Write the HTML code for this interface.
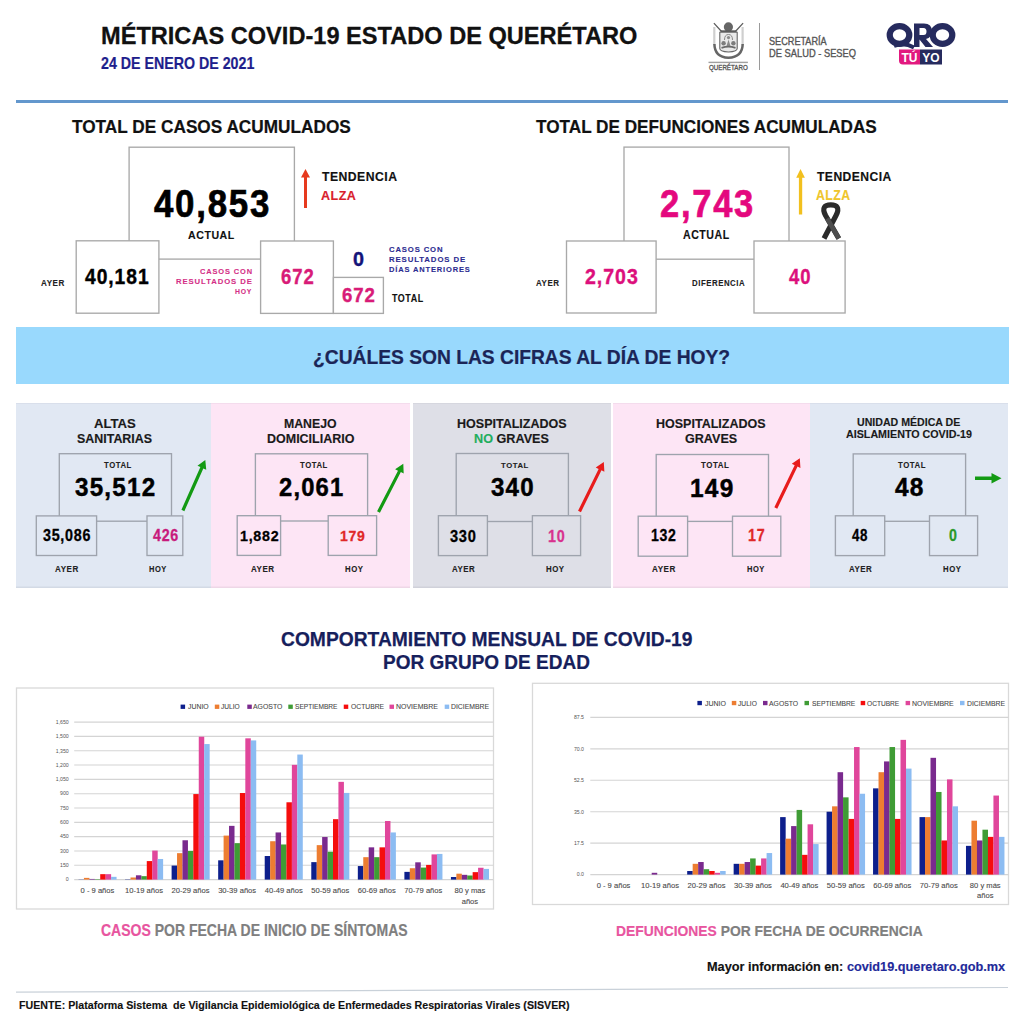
<!DOCTYPE html>
<html><head><meta charset="utf-8"><title>Métricas COVID-19 Querétaro</title><style>
html,body{margin:0;padding:0}
body{width:1024px;height:1024px;position:relative;overflow:hidden;background:#fff;font-family:"Liberation Sans",sans-serif}
.t{position:absolute;white-space:nowrap;line-height:1;transform-origin:0 0;font-family:"Liberation Sans",sans-serif}
.bx{position:absolute;box-sizing:border-box;border:1px solid #8c8c8c}
</style></head><body>
<div style="position:absolute;left:16px;top:99.5px;width:992px;height:3.0px;background:#6397cd;"></div>
<svg style="position:absolute;left:704px;top:16px" width="50" height="58" viewBox="0 0 50 58">
<path d="M10.3 11 V29 M38.6 11 V29" stroke="#cfcfcf" stroke-width="2.2" fill="none"/>
<path d="M9.9 7.1 L17.3 15.2 M39.1 7.1 L31.6 15.2" stroke="#5e5e5e" stroke-width="1.3" fill="none"/>
<circle cx="24.4" cy="10.9" r="4.6" fill="#666"/>
<rect x="16.5" y="14.3" width="16" height="1.8" fill="#5a5a5a"/>
<path d="M15.8 16.2 H33.2 V32.5 Q33.2 35.6 24.5 36 Q15.8 35.6 15.8 32.5 Z" fill="#e9e9e9" stroke="#666" stroke-width="1.1"/>
<path d="M20.5 24 Q20.5 18.5 24.5 18.5 Q28.5 18.5 28.5 24" fill="none" stroke="#888" stroke-width="1"/>
<circle cx="24.5" cy="21.6" r="1.6" fill="#8a8a8a"/>
<path d="M22.5 30 L24.5 23.5 L26.5 30 Z" fill="#8a8a8a"/>
<circle cx="19.6" cy="27.2" r="2.2" fill="#7d7d7d"/>
<circle cx="29.4" cy="27.2" r="2.2" fill="#7d7d7d"/>
<path d="M17.5 31.8 Q24.5 29.5 31.5 31.8" stroke="#6a6a6a" stroke-width="1.8" fill="none"/>
<path d="M10.4 28 Q10.6 41.2 24.4 41.8 Q38.4 41.2 38.7 28" stroke="#666" stroke-width="2.5" fill="none"/>
<rect x="4.5" y="45.7" width="39.4" height="1.4" fill="#a0a0a0"/>
</svg>
<div style="position:absolute;left:759px;top:22.5px;width:1px;height:47.5px;background:#9a9a9a;"></div>
<svg style="position:absolute;left:884px;top:20px" width="74" height="48" viewBox="0 0 74 48">
<g fill="none" stroke="#262b5e" stroke-width="6.2">
<ellipse cx="15.5" cy="15" rx="9.8" ry="8.8"/>
<ellipse cx="58.5" cy="15" rx="9.8" ry="8.8"/>
</g>
<path d="M10 26 Q20 22 30 27.5" stroke="#262b5e" stroke-width="4" fill="none"/>
<path d="M30 3.5 H40 Q48 3.5 48 11.5 Q48 17.5 42 19 L49 27 H41.5 L35.5 19.5 V27 H30 Z M35.5 8 V15 H39.5 Q42.5 15 42.5 11.5 Q42.5 8 39.5 8 Z" fill="#262b5e" fill-rule="evenodd"/>
<path d="M15 29.5 H36 V44.5 H19 Q15 44.5 15 40.5 Z" fill="#e2197f"/>
<rect x="36" y="29.5" width="22" height="15" fill="#262b5e"/>
<text x="25.5" y="42" font-family="Liberation Sans" font-weight="bold" font-size="12" fill="#fff" text-anchor="middle">TÚ</text>
<text x="47" y="42" font-family="Liberation Sans" font-weight="bold" font-size="12" fill="#fff" text-anchor="middle">YO</text>
</svg>
<svg style="position:absolute;left:0;top:0;overflow:visible" width="1" height="1"><rect x="129.1" y="147.2" width="165.30" height="111.90" fill="#fff" stroke="#a9a9a9" stroke-width="1.35"/></svg>
<svg style="position:absolute;left:0;top:0;overflow:visible" width="1" height="1"><rect x="76.2" y="240.8" width="82.70" height="72.40" fill="#fff" stroke="#a9a9a9" stroke-width="1.35"/></svg>
<svg style="position:absolute;left:0;top:0;overflow:visible" width="1" height="1"><rect x="260.6" y="241" width="72.80" height="72.40" fill="#fff" stroke="#a9a9a9" stroke-width="1.35"/></svg>
<svg style="position:absolute;left:0;top:0;overflow:visible" width="1" height="1"><rect x="333.4" y="277.4" width="50.00" height="36.00" fill="#fff" stroke="#a9a9a9" stroke-width="1.35"/></svg>
<svg style="position:absolute;left:0;top:0" width="1024" height="330">
<path d="M304 208 V177.5 H301 L305.5 169 L310 177.5 H307 V208 Z" fill="#e63a1e"/>
<path d="M798.9 214.4 V177.8 H796.2 L800.5 169 L804.9 177.8 H802.2 V214.4 Z" fill="#f2c01e"/>
</svg>
<svg style="position:absolute;left:0;top:0;overflow:visible" width="1" height="1"><rect x="624" y="147.1" width="165.00" height="112.10" fill="#fff" stroke="#a9a9a9" stroke-width="1.35"/></svg>
<svg style="position:absolute;left:0;top:0;overflow:visible" width="1" height="1"><rect x="566.5" y="241" width="89.60" height="72.00" fill="#fff" stroke="#a9a9a9" stroke-width="1.35"/></svg>
<svg style="position:absolute;left:0;top:0;overflow:visible" width="1" height="1"><rect x="754" y="241" width="91.10" height="72.00" fill="#fff" stroke="#a9a9a9" stroke-width="1.35"/></svg>
<svg style="position:absolute;left:0;top:0" width="1024" height="260">
<path d="M824 238.5 L836 215.5 C840 207.8 837 204.8 830.8 204.8 C824.6 204.8 821.6 207.8 825.6 215.5 L838.8 238.5" fill="none" stroke="#2b2b2b" stroke-width="5.2" stroke-linejoin="round"/>
<path d="M827.2 218.5 L838.8 238.5" fill="none" stroke="#4d4d4d" stroke-width="4.6"/>
</svg>
<div style="position:absolute;left:16px;top:327px;width:992.5px;height:57px;background:#99d9fd;"></div>
<div style="position:absolute;left:16px;top:403.4px;width:195px;height:185.0px;background:#e1e8f3;box-shadow:inset 0 1px 0 rgba(0,0,20,0.035),inset 0 -1.6px 0 rgba(0,0,20,0.06)"></div>
<div style="position:absolute;left:211px;top:403.4px;width:199px;height:185.0px;background:#fde5f5;box-shadow:inset 0 1px 0 rgba(0,0,20,0.035),inset 0 -1.6px 0 rgba(0,0,20,0.06)"></div>
<div style="position:absolute;left:413px;top:403.4px;width:197.60000000000002px;height:185.0px;background:#dedfe7;box-shadow:inset 0 1px 0 rgba(0,0,20,0.035),inset 0 -1.6px 0 rgba(0,0,20,0.06)"></div>
<div style="position:absolute;left:613px;top:403.4px;width:197px;height:185.0px;background:#fde5f5;box-shadow:inset 0 1px 0 rgba(0,0,20,0.035),inset 0 -1.6px 0 rgba(0,0,20,0.06)"></div>
<div style="position:absolute;left:810px;top:403.4px;width:198px;height:185.0px;background:#e1e8f3;box-shadow:inset 0 1px 0 rgba(0,0,20,0.035),inset 0 -1.6px 0 rgba(0,0,20,0.06)"></div>
<svg style="position:absolute;left:0;top:0;overflow:visible" width="1" height="1"><rect x="59.3" y="453.7" width="112.20" height="67.50" fill="#e1e8f3" stroke="#9ea3ad" stroke-width="1.35"/></svg>
<svg style="position:absolute;left:0;top:0;overflow:visible" width="1" height="1"><rect x="36.3" y="515.9" width="60.30" height="39.60" fill="#e1e8f3" stroke="#9ea3ad" stroke-width="1.35"/></svg>
<svg style="position:absolute;left:0;top:0;overflow:visible" width="1" height="1"><rect x="147" y="515.9" width="35.80" height="39.60" fill="#e1e8f3" stroke="#9ea3ad" stroke-width="1.35"/></svg>
<svg style="position:absolute;left:0;top:0;overflow:visible" width="1" height="1"><rect x="255.4" y="453.8" width="112.20" height="67.20" fill="#fde5f5" stroke="#9ea3ad" stroke-width="1.35"/></svg>
<svg style="position:absolute;left:0;top:0;overflow:visible" width="1" height="1"><rect x="237.2" y="515.7" width="43.40" height="39.70" fill="#fde5f5" stroke="#9ea3ad" stroke-width="1.35"/></svg>
<svg style="position:absolute;left:0;top:0;overflow:visible" width="1" height="1"><rect x="328.2" y="515.7" width="48.40" height="39.70" fill="#fde5f5" stroke="#9ea3ad" stroke-width="1.35"/></svg>
<svg style="position:absolute;left:0;top:0;overflow:visible" width="1" height="1"><rect x="456.2" y="453.5" width="112.20" height="68.00" fill="#dedfe7" stroke="#9ea3ad" stroke-width="1.35"/></svg>
<svg style="position:absolute;left:0;top:0;overflow:visible" width="1" height="1"><rect x="438.4" y="515.7" width="49.00" height="39.90" fill="#dedfe7" stroke="#9ea3ad" stroke-width="1.35"/></svg>
<svg style="position:absolute;left:0;top:0;overflow:visible" width="1" height="1"><rect x="532.4" y="515.7" width="48.20" height="39.90" fill="#dedfe7" stroke="#9ea3ad" stroke-width="1.35"/></svg>
<svg style="position:absolute;left:0;top:0;overflow:visible" width="1" height="1"><rect x="656.2" y="454.5" width="112.30" height="66.90" fill="#fde5f5" stroke="#9ea3ad" stroke-width="1.35"/></svg>
<svg style="position:absolute;left:0;top:0;overflow:visible" width="1" height="1"><rect x="638.2" y="516.2" width="49.40" height="40.00" fill="#fde5f5" stroke="#9ea3ad" stroke-width="1.35"/></svg>
<svg style="position:absolute;left:0;top:0;overflow:visible" width="1" height="1"><rect x="732.5" y="516.2" width="48.30" height="40.00" fill="#fde5f5" stroke="#9ea3ad" stroke-width="1.35"/></svg>
<svg style="position:absolute;left:0;top:0;overflow:visible" width="1" height="1"><rect x="853.2" y="453.9" width="112.40" height="67.40" fill="#e1e8f3" stroke="#9ea3ad" stroke-width="1.35"/></svg>
<svg style="position:absolute;left:0;top:0;overflow:visible" width="1" height="1"><rect x="835.4" y="515.8" width="49.30" height="39.80" fill="#e1e8f3" stroke="#9ea3ad" stroke-width="1.35"/></svg>
<svg style="position:absolute;left:0;top:0;overflow:visible" width="1" height="1"><rect x="929.5" y="515.8" width="48.10" height="39.80" fill="#e1e8f3" stroke="#9ea3ad" stroke-width="1.35"/></svg>
<svg style="position:absolute;left:0;top:0" width="1024" height="600"><path d="M184.36 511.15 L203.32 468.42 L206.24 469.72 L205.30 460.00 L197.47 465.82 L200.39 467.12 L181.44 509.85 Z" fill="#139a13"/><path d="M379.92 512.73 L400.83 472.09 L403.68 473.55 L403.30 463.80 L395.14 469.16 L397.99 470.63 L377.08 511.27 Z" fill="#139a13"/><path d="M580.94 512.21 L601.49 470.34 L604.36 471.75 L603.80 462.00 L595.75 467.51 L598.62 468.93 L578.06 510.79 Z" fill="#e81c1c"/><path d="M777.24 508.69 L797.55 466.55 L800.43 467.94 L799.80 458.20 L791.79 463.77 L794.67 465.16 L774.36 507.31 Z" fill="#e81c1c"/><path d="M975.00 479.90 L991.50 479.90 L991.50 483.40 L1001.50 478.20 L991.50 473.00 L991.50 476.50 L975.00 476.50 Z" fill="#139a13"/></svg>
<svg style="position:absolute;left:0;top:980px" width="1024" height="20"><line x1="16" y1="12.2" x2="1008" y2="7.5" stroke="#c9d1d9" stroke-width="1.2"/></svg>
<svg style="position:absolute;left:0;top:0" width="1024" height="1024">
<rect x="16.5" y="688.0" width="477" height="221.0" fill="#fff" stroke="#d9d9d9" stroke-width="1.3"/>
<line x1="74.2" y1="879.60" x2="493.2" y2="879.60" stroke="#d4d4d4" stroke-width="1.1"/>
<text x="68.75" y="881.40" font-family="Liberation Sans" font-size="5.2" fill="#555" text-anchor="end">0</text>
<line x1="74.2" y1="865.28" x2="493.2" y2="865.28" stroke="#d4d4d4" stroke-width="1.1"/>
<text x="68.75" y="867.08" font-family="Liberation Sans" font-size="5.2" fill="#555" text-anchor="end">150</text>
<line x1="74.2" y1="850.96" x2="493.2" y2="850.96" stroke="#d4d4d4" stroke-width="1.1"/>
<text x="68.75" y="852.76" font-family="Liberation Sans" font-size="5.2" fill="#555" text-anchor="end">300</text>
<line x1="74.2" y1="836.65" x2="493.2" y2="836.65" stroke="#d4d4d4" stroke-width="1.1"/>
<text x="68.75" y="838.45" font-family="Liberation Sans" font-size="5.2" fill="#555" text-anchor="end">450</text>
<line x1="74.2" y1="822.33" x2="493.2" y2="822.33" stroke="#d4d4d4" stroke-width="1.1"/>
<text x="68.75" y="824.13" font-family="Liberation Sans" font-size="5.2" fill="#555" text-anchor="end">600</text>
<line x1="74.2" y1="808.01" x2="493.2" y2="808.01" stroke="#d4d4d4" stroke-width="1.1"/>
<text x="68.75" y="809.81" font-family="Liberation Sans" font-size="5.2" fill="#555" text-anchor="end">750</text>
<line x1="74.2" y1="793.69" x2="493.2" y2="793.69" stroke="#d4d4d4" stroke-width="1.1"/>
<text x="68.75" y="795.49" font-family="Liberation Sans" font-size="5.2" fill="#555" text-anchor="end">900</text>
<line x1="74.2" y1="779.37" x2="493.2" y2="779.37" stroke="#d4d4d4" stroke-width="1.1"/>
<text x="68.75" y="781.17" font-family="Liberation Sans" font-size="5.2" fill="#555" text-anchor="end">1,050</text>
<line x1="74.2" y1="765.05" x2="493.2" y2="765.05" stroke="#d4d4d4" stroke-width="1.1"/>
<text x="68.75" y="766.85" font-family="Liberation Sans" font-size="5.2" fill="#555" text-anchor="end">1,200</text>
<line x1="74.2" y1="750.74" x2="493.2" y2="750.74" stroke="#d4d4d4" stroke-width="1.1"/>
<text x="68.75" y="752.54" font-family="Liberation Sans" font-size="5.2" fill="#555" text-anchor="end">1,350</text>
<line x1="74.2" y1="736.42" x2="493.2" y2="736.42" stroke="#d4d4d4" stroke-width="1.1"/>
<text x="68.75" y="738.22" font-family="Liberation Sans" font-size="5.2" fill="#555" text-anchor="end">1,500</text>
<line x1="74.2" y1="722.10" x2="493.2" y2="722.10" stroke="#d4d4d4" stroke-width="1.1"/>
<text x="68.75" y="723.90" font-family="Liberation Sans" font-size="5.2" fill="#555" text-anchor="end">1,650</text>
<rect x="78.50" y="879.41" width="5.48" height="0.19" fill="#0d1f8c"/>
<rect x="83.93" y="877.88" width="5.48" height="1.72" fill="#ed7d31"/>
<rect x="89.36" y="878.93" width="5.48" height="0.67" fill="#7a2a8e"/>
<rect x="94.79" y="879.12" width="5.48" height="0.48" fill="#3f9c35"/>
<rect x="100.22" y="874.16" width="5.48" height="5.44" fill="#f50d0d"/>
<rect x="105.65" y="874.16" width="5.48" height="5.44" fill="#e0469b"/>
<rect x="111.08" y="876.83" width="5.48" height="2.77" fill="#8cbcf2"/>
<rect x="125.06" y="879.31" width="5.48" height="0.29" fill="#0d1f8c"/>
<rect x="130.49" y="877.50" width="5.48" height="2.10" fill="#ed7d31"/>
<rect x="135.92" y="875.30" width="5.48" height="4.30" fill="#7a2a8e"/>
<rect x="141.35" y="876.16" width="5.48" height="3.44" fill="#3f9c35"/>
<rect x="146.78" y="861.08" width="5.48" height="18.52" fill="#f50d0d"/>
<rect x="152.21" y="850.58" width="5.48" height="29.02" fill="#e0469b"/>
<rect x="157.64" y="858.98" width="5.48" height="20.62" fill="#8cbcf2"/>
<rect x="171.61" y="865.57" width="5.48" height="14.03" fill="#0d1f8c"/>
<rect x="177.04" y="853.16" width="5.48" height="26.44" fill="#ed7d31"/>
<rect x="182.47" y="840.27" width="5.48" height="39.33" fill="#7a2a8e"/>
<rect x="187.90" y="850.96" width="5.48" height="28.64" fill="#3f9c35"/>
<rect x="193.33" y="794.07" width="5.48" height="85.53" fill="#f50d0d"/>
<rect x="198.76" y="736.70" width="5.48" height="142.90" fill="#e0469b"/>
<rect x="204.19" y="744.05" width="5.48" height="135.55" fill="#8cbcf2"/>
<rect x="218.17" y="860.32" width="5.48" height="19.28" fill="#0d1f8c"/>
<rect x="223.60" y="835.60" width="5.48" height="44.00" fill="#ed7d31"/>
<rect x="229.03" y="825.86" width="5.48" height="53.74" fill="#7a2a8e"/>
<rect x="234.46" y="843.14" width="5.48" height="36.46" fill="#3f9c35"/>
<rect x="239.89" y="793.02" width="5.48" height="86.58" fill="#f50d0d"/>
<rect x="245.32" y="738.33" width="5.48" height="141.27" fill="#e0469b"/>
<rect x="250.75" y="740.43" width="5.48" height="139.17" fill="#8cbcf2"/>
<rect x="264.72" y="856.02" width="5.48" height="23.58" fill="#0d1f8c"/>
<rect x="270.15" y="841.23" width="5.48" height="38.37" fill="#ed7d31"/>
<rect x="275.58" y="832.45" width="5.48" height="47.15" fill="#7a2a8e"/>
<rect x="281.01" y="844.47" width="5.48" height="35.13" fill="#3f9c35"/>
<rect x="286.44" y="802.28" width="5.48" height="77.32" fill="#f50d0d"/>
<rect x="291.87" y="764.86" width="5.48" height="114.74" fill="#e0469b"/>
<rect x="297.30" y="754.55" width="5.48" height="125.05" fill="#8cbcf2"/>
<rect x="311.28" y="862.13" width="5.48" height="17.47" fill="#0d1f8c"/>
<rect x="316.71" y="845.14" width="5.48" height="34.46" fill="#ed7d31"/>
<rect x="322.14" y="837.03" width="5.48" height="42.57" fill="#7a2a8e"/>
<rect x="327.57" y="851.73" width="5.48" height="27.87" fill="#3f9c35"/>
<rect x="333.00" y="819.18" width="5.48" height="60.42" fill="#f50d0d"/>
<rect x="338.43" y="781.85" width="5.48" height="97.75" fill="#e0469b"/>
<rect x="343.86" y="792.93" width="5.48" height="86.67" fill="#8cbcf2"/>
<rect x="357.83" y="866.05" width="5.48" height="13.55" fill="#0d1f8c"/>
<rect x="363.26" y="857.17" width="5.48" height="22.43" fill="#ed7d31"/>
<rect x="368.69" y="847.34" width="5.48" height="32.26" fill="#7a2a8e"/>
<rect x="374.12" y="857.17" width="5.48" height="22.43" fill="#3f9c35"/>
<rect x="379.55" y="847.34" width="5.48" height="32.26" fill="#f50d0d"/>
<rect x="384.98" y="820.99" width="5.48" height="58.61" fill="#e0469b"/>
<rect x="390.41" y="832.45" width="5.48" height="47.15" fill="#8cbcf2"/>
<rect x="404.39" y="871.87" width="5.48" height="7.73" fill="#0d1f8c"/>
<rect x="409.82" y="868.24" width="5.48" height="11.36" fill="#ed7d31"/>
<rect x="415.25" y="862.32" width="5.48" height="17.28" fill="#7a2a8e"/>
<rect x="420.68" y="867.57" width="5.48" height="12.03" fill="#3f9c35"/>
<rect x="426.11" y="864.90" width="5.48" height="14.70" fill="#f50d0d"/>
<rect x="431.54" y="854.40" width="5.48" height="25.20" fill="#e0469b"/>
<rect x="436.97" y="853.92" width="5.48" height="25.68" fill="#8cbcf2"/>
<rect x="450.94" y="877.02" width="5.48" height="2.58" fill="#0d1f8c"/>
<rect x="456.37" y="873.68" width="5.48" height="5.92" fill="#ed7d31"/>
<rect x="461.80" y="874.83" width="5.48" height="4.77" fill="#7a2a8e"/>
<rect x="467.23" y="875.50" width="5.48" height="4.10" fill="#3f9c35"/>
<rect x="472.66" y="872.15" width="5.48" height="7.45" fill="#f50d0d"/>
<rect x="478.09" y="867.76" width="5.48" height="11.84" fill="#e0469b"/>
<rect x="483.52" y="868.91" width="5.48" height="10.69" fill="#8cbcf2"/>
<rect x="180.6" y="704.6" width="4.5" height="4.3" fill="#0d1f8c"/>
<rect x="214.8" y="704.6" width="4.5" height="4.3" fill="#ed7d31"/>
<rect x="247.3" y="704.6" width="4.5" height="4.3" fill="#7a2a8e"/>
<rect x="288.3" y="704.6" width="4.5" height="4.3" fill="#3f9c35"/>
<rect x="343.75" y="704.6" width="4.5" height="4.3" fill="#f50d0d"/>
<rect x="389.5" y="704.6" width="4.5" height="4.3" fill="#e0469b"/>
<rect x="444.7" y="704.6" width="4.5" height="4.3" fill="#8cbcf2"/>
</svg>
<div class="t" style="left:67.48px;width:60px;text-align:center;top:887px;font-size:7.6px;color:#4a4a4a;-webkit-text-stroke-width:0.1px">0 - 9 años</div>
<div class="t" style="left:114.03px;width:60px;text-align:center;top:887px;font-size:7.6px;color:#4a4a4a;-webkit-text-stroke-width:0.1px">10-19 años</div>
<div class="t" style="left:160.59px;width:60px;text-align:center;top:887px;font-size:7.6px;color:#4a4a4a;-webkit-text-stroke-width:0.1px">20-29 años</div>
<div class="t" style="left:207.14px;width:60px;text-align:center;top:887px;font-size:7.6px;color:#4a4a4a;-webkit-text-stroke-width:0.1px">30-39 años</div>
<div class="t" style="left:253.70px;width:60px;text-align:center;top:887px;font-size:7.6px;color:#4a4a4a;-webkit-text-stroke-width:0.1px">40-49 años</div>
<div class="t" style="left:300.26px;width:60px;text-align:center;top:887px;font-size:7.6px;color:#4a4a4a;-webkit-text-stroke-width:0.1px">50-59 años</div>
<div class="t" style="left:346.81px;width:60px;text-align:center;top:887px;font-size:7.6px;color:#4a4a4a;-webkit-text-stroke-width:0.1px">60-69 años</div>
<div class="t" style="left:393.37px;width:60px;text-align:center;top:887px;font-size:7.6px;color:#4a4a4a;-webkit-text-stroke-width:0.1px">70-79 años</div>
<div class="t" style="left:439.92px;width:60px;text-align:center;top:887px;font-size:7.6px;color:#4a4a4a;-webkit-text-stroke-width:0.1px">80 y mas</div>
<div class="t" style="left:439.92px;width:60px;text-align:center;top:898px;font-size:7.6px;color:#4a4a4a;-webkit-text-stroke-width:0.1px">años</div>
<svg style="position:absolute;left:0;top:0" width="1024" height="1024">
<rect x="532.5" y="683.3" width="476" height="221.20000000000005" fill="#fff" stroke="#d9d9d9" stroke-width="1.3"/>
<line x1="590.3" y1="874.60" x2="1008.5" y2="874.60" stroke="#d4d4d4" stroke-width="1.1"/>
<text x="584" y="876.40" font-family="Liberation Sans" font-size="5.2" fill="#555" text-anchor="end">0.0</text>
<line x1="590.3" y1="843.16" x2="1008.5" y2="843.16" stroke="#d4d4d4" stroke-width="1.1"/>
<text x="584" y="844.96" font-family="Liberation Sans" font-size="5.2" fill="#555" text-anchor="end">17.5</text>
<line x1="590.3" y1="811.72" x2="1008.5" y2="811.72" stroke="#d4d4d4" stroke-width="1.1"/>
<text x="584" y="813.52" font-family="Liberation Sans" font-size="5.2" fill="#555" text-anchor="end">35.0</text>
<line x1="590.3" y1="780.28" x2="1008.5" y2="780.28" stroke="#d4d4d4" stroke-width="1.1"/>
<text x="584" y="782.08" font-family="Liberation Sans" font-size="5.2" fill="#555" text-anchor="end">52.5</text>
<line x1="590.3" y1="748.84" x2="1008.5" y2="748.84" stroke="#d4d4d4" stroke-width="1.1"/>
<text x="584" y="750.64" font-family="Liberation Sans" font-size="5.2" fill="#555" text-anchor="end">70.0</text>
<line x1="590.3" y1="717.40" x2="1008.5" y2="717.40" stroke="#d4d4d4" stroke-width="1.1"/>
<text x="584" y="719.20" font-family="Liberation Sans" font-size="5.2" fill="#555" text-anchor="end">87.5</text>
<rect x="651.70" y="872.80" width="5.54" height="1.80" fill="#7a2a8e"/>
<rect x="687.18" y="871.01" width="5.54" height="3.59" fill="#0d1f8c"/>
<rect x="692.67" y="863.82" width="5.54" height="10.78" fill="#ed7d31"/>
<rect x="698.16" y="862.02" width="5.54" height="12.58" fill="#7a2a8e"/>
<rect x="703.65" y="869.21" width="5.54" height="5.39" fill="#3f9c35"/>
<rect x="709.14" y="871.01" width="5.54" height="3.59" fill="#f50d0d"/>
<rect x="714.63" y="872.80" width="5.54" height="1.80" fill="#e0469b"/>
<rect x="720.12" y="871.01" width="5.54" height="3.59" fill="#8cbcf2"/>
<rect x="733.65" y="863.82" width="5.54" height="10.78" fill="#0d1f8c"/>
<rect x="739.14" y="863.82" width="5.54" height="10.78" fill="#ed7d31"/>
<rect x="744.63" y="862.02" width="5.54" height="12.58" fill="#7a2a8e"/>
<rect x="750.12" y="858.43" width="5.54" height="16.17" fill="#3f9c35"/>
<rect x="755.61" y="865.62" width="5.54" height="8.98" fill="#f50d0d"/>
<rect x="761.10" y="858.43" width="5.54" height="16.17" fill="#e0469b"/>
<rect x="766.59" y="853.04" width="5.54" height="21.56" fill="#8cbcf2"/>
<rect x="780.12" y="817.11" width="5.54" height="57.49" fill="#0d1f8c"/>
<rect x="785.61" y="838.67" width="5.54" height="35.93" fill="#ed7d31"/>
<rect x="791.10" y="826.09" width="5.54" height="48.51" fill="#7a2a8e"/>
<rect x="796.59" y="809.92" width="5.54" height="64.68" fill="#3f9c35"/>
<rect x="802.08" y="854.84" width="5.54" height="19.76" fill="#f50d0d"/>
<rect x="807.57" y="824.30" width="5.54" height="50.30" fill="#e0469b"/>
<rect x="813.06" y="844.06" width="5.54" height="30.54" fill="#8cbcf2"/>
<rect x="826.58" y="811.72" width="5.54" height="62.88" fill="#0d1f8c"/>
<rect x="832.07" y="806.33" width="5.54" height="68.27" fill="#ed7d31"/>
<rect x="837.56" y="772.20" width="5.54" height="102.40" fill="#7a2a8e"/>
<rect x="843.05" y="797.35" width="5.54" height="77.25" fill="#3f9c35"/>
<rect x="848.54" y="818.91" width="5.54" height="55.69" fill="#f50d0d"/>
<rect x="854.03" y="747.04" width="5.54" height="127.56" fill="#e0469b"/>
<rect x="859.52" y="793.75" width="5.54" height="80.85" fill="#8cbcf2"/>
<rect x="873.05" y="788.36" width="5.54" height="86.24" fill="#0d1f8c"/>
<rect x="878.54" y="772.20" width="5.54" height="102.40" fill="#ed7d31"/>
<rect x="884.03" y="761.42" width="5.54" height="113.18" fill="#7a2a8e"/>
<rect x="889.52" y="747.04" width="5.54" height="127.56" fill="#3f9c35"/>
<rect x="895.01" y="818.91" width="5.54" height="55.69" fill="#f50d0d"/>
<rect x="900.50" y="739.86" width="5.54" height="134.74" fill="#e0469b"/>
<rect x="905.99" y="768.60" width="5.54" height="106.00" fill="#8cbcf2"/>
<rect x="919.52" y="817.11" width="5.54" height="57.49" fill="#0d1f8c"/>
<rect x="925.01" y="817.11" width="5.54" height="57.49" fill="#ed7d31"/>
<rect x="930.50" y="757.82" width="5.54" height="116.78" fill="#7a2a8e"/>
<rect x="935.99" y="791.96" width="5.54" height="82.64" fill="#3f9c35"/>
<rect x="941.48" y="840.47" width="5.54" height="34.13" fill="#f50d0d"/>
<rect x="946.97" y="779.38" width="5.54" height="95.22" fill="#e0469b"/>
<rect x="952.46" y="806.33" width="5.54" height="68.27" fill="#8cbcf2"/>
<rect x="965.98" y="845.85" width="5.54" height="28.75" fill="#0d1f8c"/>
<rect x="971.47" y="820.70" width="5.54" height="53.90" fill="#ed7d31"/>
<rect x="976.96" y="840.47" width="5.54" height="34.13" fill="#7a2a8e"/>
<rect x="982.45" y="829.69" width="5.54" height="44.91" fill="#3f9c35"/>
<rect x="987.94" y="836.87" width="5.54" height="37.73" fill="#f50d0d"/>
<rect x="993.43" y="795.55" width="5.54" height="79.05" fill="#e0469b"/>
<rect x="998.92" y="836.87" width="5.54" height="37.73" fill="#8cbcf2"/>
<rect x="697.4" y="700.9000000000001" width="4.5" height="4.3" fill="#0d1f8c"/>
<rect x="731.8" y="700.9000000000001" width="4.5" height="4.3" fill="#ed7d31"/>
<rect x="763" y="700.9000000000001" width="4.5" height="4.3" fill="#7a2a8e"/>
<rect x="804.5" y="700.9000000000001" width="4.5" height="4.3" fill="#3f9c35"/>
<rect x="860.7" y="700.9000000000001" width="4.5" height="4.3" fill="#f50d0d"/>
<rect x="905.6" y="700.9000000000001" width="4.5" height="4.3" fill="#e0469b"/>
<rect x="960" y="700.9000000000001" width="4.5" height="4.3" fill="#8cbcf2"/>
</svg>
<div class="t" style="left:583.53px;width:60px;text-align:center;top:882px;font-size:7.6px;color:#4a4a4a;-webkit-text-stroke-width:0.1px">0 - 9 años</div>
<div class="t" style="left:630.00px;width:60px;text-align:center;top:882px;font-size:7.6px;color:#4a4a4a;-webkit-text-stroke-width:0.1px">10-19 años</div>
<div class="t" style="left:676.47px;width:60px;text-align:center;top:882px;font-size:7.6px;color:#4a4a4a;-webkit-text-stroke-width:0.1px">20-29 años</div>
<div class="t" style="left:722.93px;width:60px;text-align:center;top:882px;font-size:7.6px;color:#4a4a4a;-webkit-text-stroke-width:0.1px">30-39 años</div>
<div class="t" style="left:769.40px;width:60px;text-align:center;top:882px;font-size:7.6px;color:#4a4a4a;-webkit-text-stroke-width:0.1px">40-49 años</div>
<div class="t" style="left:815.87px;width:60px;text-align:center;top:882px;font-size:7.6px;color:#4a4a4a;-webkit-text-stroke-width:0.1px">50-59 años</div>
<div class="t" style="left:862.33px;width:60px;text-align:center;top:882px;font-size:7.6px;color:#4a4a4a;-webkit-text-stroke-width:0.1px">60-69 años</div>
<div class="t" style="left:908.80px;width:60px;text-align:center;top:882px;font-size:7.6px;color:#4a4a4a;-webkit-text-stroke-width:0.1px">70-79 años</div>
<div class="t" style="left:955.27px;width:60px;text-align:center;top:882px;font-size:7.6px;color:#4a4a4a;-webkit-text-stroke-width:0.1px">80 y más</div>
<div class="t" style="left:955.27px;width:60px;text-align:center;top:892px;font-size:7.6px;color:#4a4a4a;-webkit-text-stroke-width:0.1px">años</div>
<div class="t" style="left:101.14px;top:24px;font-size:24.493px;font-weight:bold;color:#111;transform:scaleX(0.9633);-webkit-text-stroke-width:0.29px;">MÉTRICAS COVID-19 ESTADO DE QUERÉTARO</div>
<div class="t" style="left:100.9px;top:56px;font-size:15.797px;font-weight:bold;color:#1e1e8c;transform:scaleX(0.9012);-webkit-text-stroke-width:0.19px;">24 DE ENERO DE 2021</div>
<div class="t" style="left:768.75px;top:37px;font-size:10.29px;font-weight:normal;color:#555;transform:scaleX(0.8885);-webkit-text-stroke-width:0.12px;-webkit-text-stroke:0.35px #555;">SECRETARÍA</div>
<div class="t" style="left:768.75px;top:48px;font-size:10.58px;font-weight:normal;color:#555;transform:scaleX(0.8813);-webkit-text-stroke-width:0.13px;-webkit-text-stroke:0.35px #555;">DE SALUD - SESEQ</div>
<div class="t" style="left:709.0px;top:65px;font-size:6.667px;font-weight:normal;color:#555;transform:scaleX(0.9286);-webkit-text-stroke-width:0.08px;-webkit-text-stroke:0.3px #555;">QUERÉTARO</div>
<div class="t" style="left:72.1px;top:119px;font-size:17.826px;font-weight:bold;color:#111;transform:scaleX(0.967);-webkit-text-stroke-width:0.21px;">TOTAL DE CASOS ACUMULADOS</div>
<div class="t" style="left:153.8px;top:185px;font-size:38.261px;font-weight:bold;color:#000;transform:scaleX(0.9111);-webkit-text-stroke-width:0.69px;letter-spacing:0.05em;">40,853</div>
<div class="t" style="left:188.3px;top:230px;font-size:11.594px;font-weight:bold;color:#111;transform:scaleX(0.9137);-webkit-text-stroke-width:0.14px;letter-spacing:0.6px">ACTUAL</div>
<div class="t" style="left:321.54px;top:170px;font-size:13.043px;font-weight:bold;color:#111;transform:scaleX(0.937);-webkit-text-stroke-width:0.16px;letter-spacing:0.5px">TENDENCIA</div>
<div class="t" style="left:320.6px;top:189px;font-size:13.478px;font-weight:bold;color:#d9202c;transform:scaleX(0.9316);-webkit-text-stroke-width:0.16px;letter-spacing:0.5px">ALZA</div>
<div class="t" style="left:85.1px;top:266px;font-size:21.594px;font-weight:bold;color:#000;transform:scaleX(0.8903);-webkit-text-stroke-width:0.39px;letter-spacing:0.05em;">40,181</div>
<div class="t" style="left:41.2px;top:279px;font-size:8.696px;font-weight:bold;color:#222;transform:scaleX(0.928);-webkit-text-stroke-width:0.1px;letter-spacing:0.6px">AYER</div>
<div class="t" style="left:199.7px;top:268px;font-size:7.826px;font-weight:bold;color:#d42f86;transform:scaleX(0.9545);-webkit-text-stroke-width:0.09px;letter-spacing:0.9px">CASOS CON</div>
<div class="t" style="left:175.7px;top:278px;font-size:7.681px;font-weight:bold;color:#d42f86;transform:scaleX(1.0066);-webkit-text-stroke-width:0.09px;letter-spacing:0.9px">RESULTADOS DE</div>
<div class="t" style="left:235.3px;top:288px;font-size:8.116px;font-weight:bold;color:#d42f86;transform:scaleX(0.845);-webkit-text-stroke-width:0.1px;letter-spacing:0.9px">HOY</div>
<div class="t" style="left:281.4px;top:266px;font-size:21.159px;font-weight:bold;color:#d81b78;transform:scaleX(0.8743);-webkit-text-stroke-width:0.38px;letter-spacing:0.05em;">672</div>
<div class="t" style="left:342.4px;top:285px;font-size:20.58px;font-weight:bold;color:#d81b78;transform:scaleX(0.9056);-webkit-text-stroke-width:0.37px;letter-spacing:0.05em;">672</div>
<div class="t" style="left:353.1px;top:249px;font-size:20.435px;font-weight:bold;color:#14137a;transform:scaleX(0.9682);-webkit-text-stroke-width:0.37px;letter-spacing:0.05em;">0</div>
<div class="t" style="left:388.8px;top:246px;font-size:8.116px;font-weight:bold;color:#2b2b90;transform:scaleX(0.95);-webkit-text-stroke-width:0.1px;letter-spacing:0.9px">CASOS CON</div>
<div class="t" style="left:388.8px;top:256px;font-size:7.971px;font-weight:bold;color:#2b2b90;transform:scaleX(0.9795);-webkit-text-stroke-width:0.1px;letter-spacing:0.9px">RESULTADOS DE</div>
<div class="t" style="left:388.8px;top:266px;font-size:7.971px;font-weight:bold;color:#2b2b90;transform:scaleX(0.9419);-webkit-text-stroke-width:0.1px;letter-spacing:0.9px">DÍAS ANTERIORES</div>
<div class="t" style="left:392.14px;top:294px;font-size:10.0px;font-weight:bold;color:#111;transform:scaleX(0.8931);-webkit-text-stroke-width:0.12px;letter-spacing:0.6px">TOTAL</div>
<div class="t" style="left:536.0px;top:119px;font-size:17.681px;font-weight:bold;color:#111;transform:scaleX(0.9715);-webkit-text-stroke-width:0.21px;">TOTAL DE DEFUNCIONES ACUMULADAS</div>
<div class="t" style="left:660.4px;top:184px;font-size:39.13px;font-weight:bold;color:#e4087e;transform:scaleX(0.8819);-webkit-text-stroke-width:0.7px;letter-spacing:0.05em;">2,743</div>
<div class="t" style="left:683.3px;top:230px;font-size:11.884px;font-weight:bold;color:#111;transform:scaleX(0.8904);-webkit-text-stroke-width:0.14px;letter-spacing:0.6px">ACTUAL</div>
<div class="t" style="left:816.52px;top:170px;font-size:13.188px;font-weight:bold;color:#111;transform:scaleX(0.9195);-webkit-text-stroke-width:0.16px;letter-spacing:0.5px">TENDENCIA</div>
<div class="t" style="left:815.6px;top:189px;font-size:13.913px;font-weight:bold;color:#efc52a;transform:scaleX(0.8821);-webkit-text-stroke-width:0.17px;letter-spacing:0.5px">ALZA</div>
<div class="t" style="left:585.4px;top:266px;font-size:21.594px;font-weight:bold;color:#dc0f7c;transform:scaleX(0.9052);-webkit-text-stroke-width:0.39px;letter-spacing:0.05em;">2,703</div>
<div class="t" style="left:788.8px;top:267px;font-size:21.304px;font-weight:bold;color:#dc0f7c;transform:scaleX(0.868);-webkit-text-stroke-width:0.38px;letter-spacing:0.05em;">40</div>
<div class="t" style="left:536.0px;top:279px;font-size:8.551px;font-weight:bold;color:#222;transform:scaleX(0.928);-webkit-text-stroke-width:0.1px;letter-spacing:0.6px">AYER</div>
<div class="t" style="left:692.0px;top:279px;font-size:8.551px;font-weight:bold;color:#222;transform:scaleX(0.9138);-webkit-text-stroke-width:0.1px;letter-spacing:0.6px">DIFERENCIA</div>
<div class="t" style="left:313.2px;top:348px;font-size:19.565px;font-weight:bold;color:#1b2557;transform:scaleX(0.9839);-webkit-text-stroke-width:0.23px;">¿CUÁLES SON LAS CIFRAS AL DÍA DE HOY?</div>
<div class="t" style="left:93.7px;top:418px;font-size:12.899px;font-weight:bold;color:#1a1a1a;transform:scaleX(1.0195);-webkit-text-stroke-width:0.15px;">ALTAS</div>
<div class="t" style="left:76.9px;top:432px;font-size:13.043px;font-weight:bold;color:#1a1a1a;transform:scaleX(0.9544);-webkit-text-stroke-width:0.16px;">SANITARIAS</div>
<div class="t" style="left:103.99px;top:461px;font-size:8.696px;font-weight:bold;color:#222;transform:scaleX(0.8937);-webkit-text-stroke-width:0.1px;letter-spacing:0.6px">TOTAL</div>
<div class="t" style="left:75.0px;top:475px;font-size:24.928px;font-weight:bold;color:#000;transform:scaleX(0.972);-webkit-text-stroke-width:0.45px;letter-spacing:0.05em;">35,512</div>
<div class="t" style="left:42.9px;top:527px;font-size:16.377px;font-weight:bold;color:#000;transform:scaleX(0.8759);-webkit-text-stroke-width:0.29px;letter-spacing:0.05em;">35,086</div>
<div class="t" style="left:152.77px;top:527px;font-size:16.377px;font-weight:bold;color:#c81a7c;transform:scaleX(0.8733);-webkit-text-stroke-width:0.29px;letter-spacing:0.05em;">426</div>
<div class="t" style="left:55.0px;top:565px;font-size:8.551px;font-weight:bold;color:#222;transform:scaleX(0.94);-webkit-text-stroke-width:0.1px;letter-spacing:0.6px">AYER</div>
<div class="t" style="left:149.3px;top:565px;font-size:8.551px;font-weight:bold;color:#222;transform:scaleX(0.88);-webkit-text-stroke-width:0.1px;letter-spacing:0.6px">HOY</div>
<div class="t" style="left:284.2px;top:417px;font-size:13.043px;font-weight:bold;color:#1a1a1a;transform:scaleX(0.9429);-webkit-text-stroke-width:0.16px;">MANEJO</div>
<div class="t" style="left:267.0px;top:432px;font-size:13.043px;font-weight:bold;color:#1a1a1a;transform:scaleX(0.9582);-webkit-text-stroke-width:0.16px;">DOMICILIARIO</div>
<div class="t" style="left:300.09px;top:461px;font-size:8.696px;font-weight:bold;color:#222;transform:scaleX(0.8938);-webkit-text-stroke-width:0.1px;letter-spacing:0.6px">TOTAL</div>
<div class="t" style="left:278.8px;top:475px;font-size:25.797px;font-weight:bold;color:#000;transform:scaleX(0.9214);-webkit-text-stroke-width:0.46px;letter-spacing:0.05em;">2,061</div>
<div class="t" style="left:239.7px;top:528px;font-size:15.507px;font-weight:bold;color:#000;transform:scaleX(0.9214);-webkit-text-stroke-width:0.28px;letter-spacing:0.05em;">1,882</div>
<div class="t" style="left:339.6px;top:528px;font-size:15.507px;font-weight:bold;color:#e02828;transform:scaleX(0.9071);-webkit-text-stroke-width:0.28px;letter-spacing:0.05em;">179</div>
<div class="t" style="left:250.9px;top:565px;font-size:9.13px;font-weight:bold;color:#222;transform:scaleX(0.8741);-webkit-text-stroke-width:0.11px;letter-spacing:0.6px">AYER</div>
<div class="t" style="left:345.4px;top:565px;font-size:9.13px;font-weight:bold;color:#222;transform:scaleX(0.8524);-webkit-text-stroke-width:0.11px;letter-spacing:0.6px">HOY</div>
<div class="t" style="left:456.7px;top:417px;font-size:13.333px;font-weight:bold;color:#1a1a1a;transform:scaleX(0.9393);-webkit-text-stroke-width:0.16px;">HOSPITALIZADOS</div>
<div class="t" style="left:474.0px;top:432px;font-size:13.188px;font-weight:bold;color:#1a1a1a;transform:scaleX(0.9603);-webkit-text-stroke-width:0.16px;"><span style="color:#1fae5e">NO</span> GRAVES</div>
<div class="t" style="left:500.95px;top:462px;font-size:8.116px;font-weight:bold;color:#222;transform:scaleX(0.9533);-webkit-text-stroke-width:0.1px;letter-spacing:0.6px">TOTAL</div>
<div class="t" style="left:491.0px;top:475px;font-size:24.928px;font-weight:bold;color:#000;transform:scaleX(0.9682);-webkit-text-stroke-width:0.45px;letter-spacing:0.05em;">340</div>
<div class="t" style="left:450.3px;top:529px;font-size:16.522px;font-weight:bold;color:#000;transform:scaleX(0.8862);-webkit-text-stroke-width:0.3px;letter-spacing:0.05em;">330</div>
<div class="t" style="left:548.4px;top:529px;font-size:16.522px;font-weight:bold;color:#d8328e;transform:scaleX(0.8684);-webkit-text-stroke-width:0.3px;letter-spacing:0.05em;">10</div>
<div class="t" style="left:452.4px;top:565px;font-size:9.13px;font-weight:bold;color:#222;transform:scaleX(0.863);-webkit-text-stroke-width:0.11px;letter-spacing:0.6px">AYER</div>
<div class="t" style="left:546.3px;top:565px;font-size:9.13px;font-weight:bold;color:#222;transform:scaleX(0.8619);-webkit-text-stroke-width:0.11px;letter-spacing:0.6px">HOY</div>
<div class="t" style="left:656.2px;top:418px;font-size:12.971px;font-weight:bold;color:#1a1a1a;transform:scaleX(0.9649);-webkit-text-stroke-width:0.16px;">HOSPITALIZADOS</div>
<div class="t" style="left:685.4px;top:432px;font-size:13.043px;font-weight:bold;color:#1a1a1a;transform:scaleX(0.9648);-webkit-text-stroke-width:0.16px;">GRAVES</div>
<div class="t" style="left:701.3px;top:461px;font-size:8.841px;font-weight:bold;color:#222;transform:scaleX(0.9);-webkit-text-stroke-width:0.11px;letter-spacing:0.6px">TOTAL</div>
<div class="t" style="left:690.46px;top:475px;font-size:26.087px;font-weight:bold;color:#000;transform:scaleX(0.9378);-webkit-text-stroke-width:0.47px;letter-spacing:0.05em;">149</div>
<div class="t" style="left:650.5px;top:527px;font-size:16.087px;font-weight:bold;color:#000;transform:scaleX(0.8759);-webkit-text-stroke-width:0.29px;letter-spacing:0.05em;">132</div>
<div class="t" style="left:748.2px;top:527px;font-size:16.087px;font-weight:bold;color:#e02828;transform:scaleX(0.8895);-webkit-text-stroke-width:0.29px;letter-spacing:0.05em;">17</div>
<div class="t" style="left:652.1px;top:565px;font-size:8.841px;font-weight:bold;color:#222;transform:scaleX(0.9154);-webkit-text-stroke-width:0.11px;letter-spacing:0.6px">AYER</div>
<div class="t" style="left:746.5px;top:565px;font-size:8.841px;font-weight:bold;color:#222;transform:scaleX(0.8524);-webkit-text-stroke-width:0.11px;letter-spacing:0.6px">HOY</div>
<div class="t" style="left:856.9px;top:417px;font-size:10.725px;font-weight:bold;color:#1a1a1a;transform:scaleX(0.9895);-webkit-text-stroke-width:0.13px;">UNIDAD MÉDICA DE</div>
<div class="t" style="left:845.5px;top:429px;font-size:10.87px;font-weight:bold;color:#1a1a1a;transform:scaleX(0.9859);-webkit-text-stroke-width:0.13px;">AISLAMIENTO COVID-19</div>
<div class="t" style="left:898.32px;top:461px;font-size:8.551px;font-weight:bold;color:#222;transform:scaleX(0.9161);-webkit-text-stroke-width:0.1px;letter-spacing:0.6px">TOTAL</div>
<div class="t" style="left:894.7px;top:475px;font-size:25.942px;font-weight:bold;color:#000;transform:scaleX(0.9433);-webkit-text-stroke-width:0.47px;letter-spacing:0.05em;">48</div>
<div class="t" style="left:852.24px;top:528px;font-size:15.797px;font-weight:bold;color:#000;transform:scaleX(0.845);-webkit-text-stroke-width:0.28px;letter-spacing:0.05em;">48</div>
<div class="t" style="left:949.4px;top:528px;font-size:15.797px;font-weight:bold;color:#2a9a2a;transform:scaleX(0.9);-webkit-text-stroke-width:0.28px;letter-spacing:0.05em;">0</div>
<div class="t" style="left:849.2px;top:565px;font-size:9.13px;font-weight:bold;color:#222;transform:scaleX(0.8667);-webkit-text-stroke-width:0.11px;letter-spacing:0.6px">AYER</div>
<div class="t" style="left:943.3px;top:565px;font-size:9.13px;font-weight:bold;color:#222;transform:scaleX(0.8524);-webkit-text-stroke-width:0.11px;letter-spacing:0.6px">HOY</div>
<div class="t" style="left:280.9px;top:629px;font-size:20.725px;font-weight:bold;color:#16205c;transform:scaleX(0.9284);-webkit-text-stroke-width:0.25px;">COMPORTAMIENTO MENSUAL DE COVID-19</div>
<div class="t" style="left:383.04px;top:653px;font-size:19.855px;font-weight:bold;color:#16205c;transform:scaleX(0.9572);-webkit-text-stroke-width:0.24px;">POR GRUPO DE EDAD</div>
<div class="t" style="left:101.3px;top:923px;font-size:15.797px;font-weight:bold;color:#7f7f7f;transform:scaleX(0.8876);-webkit-text-stroke-width:0.19px;"><span style="color:#e8559f">CASOS</span> POR FECHA DE INICIO DE SÍNTOMAS</div>
<div class="t" style="left:616.11px;top:923px;font-size:15.507px;font-weight:bold;color:#7f7f7f;transform:scaleX(0.8939);-webkit-text-stroke-width:0.19px;"><span style="color:#e8559f">DEFUNCIONES</span> POR FECHA DE OCURRENCIA</div>
<div class="t" style="left:707.1px;top:960px;font-size:13.333px;font-weight:bold;color:#111;transform:scaleX(0.954);-webkit-text-stroke-width:0.16px;">Mayor información en: <span style="color:#1f2a9a">covid19.queretaro.gob.mx</span></div>
<div class="t" style="left:19.1px;top:1000px;font-size:11.594px;font-weight:bold;color:#111;transform:scaleX(0.9207);-webkit-text-stroke-width:0.14px;">FUENTE: Plataforma Sistema&nbsp; de Vigilancia Epidemiológica de Enfermedades Respiratorias Virales (SISVER)</div>
<div class="t" style="left:187.7px;top:703px;font-size:7.536px;font-weight:normal;color:#474747;transform:scaleX(0.9174);-webkit-text-stroke-width:0.09px;">JUNIO</div>
<div class="t" style="left:221.25px;top:703px;font-size:7.536px;font-weight:normal;color:#474747;transform:scaleX(0.8795);-webkit-text-stroke-width:0.09px;">JULIO</div>
<div class="t" style="left:252.8px;top:703px;font-size:7.536px;font-weight:normal;color:#474747;transform:scaleX(0.9187);-webkit-text-stroke-width:0.09px;">AGOSTO</div>
<div class="t" style="left:295.0px;top:703px;font-size:7.536px;font-weight:normal;color:#474747;transform:scaleX(0.8776);-webkit-text-stroke-width:0.09px;">SEPTIEMBRE</div>
<div class="t" style="left:350.5px;top:703px;font-size:7.536px;font-weight:normal;color:#474747;transform:scaleX(0.8986);-webkit-text-stroke-width:0.09px;">OCTUBRE</div>
<div class="t" style="left:396.25px;top:703px;font-size:7.536px;font-weight:normal;color:#474747;transform:scaleX(0.9278);-webkit-text-stroke-width:0.09px;">NOVIEMBRE</div>
<div class="t" style="left:451.25px;top:703px;font-size:7.536px;font-weight:normal;color:#474747;transform:scaleX(0.9131);-webkit-text-stroke-width:0.09px;">DICIEMBRE</div>
<div class="t" style="left:704.6px;top:700px;font-size:7.681px;font-weight:normal;color:#474747;transform:scaleX(0.913);-webkit-text-stroke-width:0.09px;">JUNIO</div>
<div class="t" style="left:738.1px;top:700px;font-size:7.681px;font-weight:normal;color:#474747;transform:scaleX(0.8682);-webkit-text-stroke-width:0.09px;">JULIO</div>
<div class="t" style="left:769.3px;top:700px;font-size:7.681px;font-weight:normal;color:#474747;transform:scaleX(0.8909);-webkit-text-stroke-width:0.09px;">AGOSTO</div>
<div class="t" style="left:811.5px;top:700px;font-size:7.681px;font-weight:normal;color:#474747;transform:scaleX(0.8755);-webkit-text-stroke-width:0.09px;">SEPTIEMBRE</div>
<div class="t" style="left:867.0px;top:700px;font-size:7.681px;font-weight:normal;color:#474747;transform:scaleX(0.8605);-webkit-text-stroke-width:0.09px;">OCTUBRE</div>
<div class="t" style="left:912.4px;top:700px;font-size:7.681px;font-weight:normal;color:#474747;transform:scaleX(0.9065);-webkit-text-stroke-width:0.09px;">NOVIEMBRE</div>
<div class="t" style="left:966.7px;top:700px;font-size:7.681px;font-weight:normal;color:#474747;transform:scaleX(0.8907);-webkit-text-stroke-width:0.09px;">DICIEMBRE</div>
</body></html>
